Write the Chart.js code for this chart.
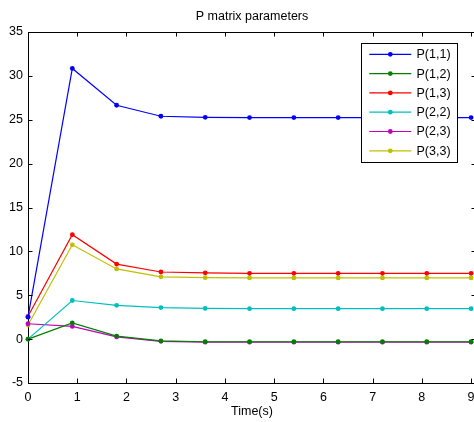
<!DOCTYPE html>
<html><head><meta charset="utf-8">
<script src="https://cdn.jsdelivr.net/npm/chart.js@4/dist/chart.umd.min.js"></script>
<style>
html,body{margin:0;padding:0;background:#fff;overflow:hidden;width:474px;height:422px}
#wrap{position:absolute;left:0;top:0;width:480px;height:422px}
</style></head><body>
<div id="wrap"><canvas id="c" width="480" height="422"></canvas></div>
<script>
const timeValues = [0, 0.9, 1.8, 2.7, 3.6, 4.5, 5.4, 6.3, 7.2, 8.1, 9.0];
const p11 = [2.5, 30.85, 26.65, 25.4, 25.28, 25.25, 25.25, 25.25, 25.25, 25.25, 25.25];
const p12 = [0, 1.85, 0.35, -0.2, -0.3, -0.3, -0.3, -0.3, -0.3, -0.3, -0.3];
const p13 = [2.6, 11.9, 8.55, 7.65, 7.55, 7.5, 7.5, 7.5, 7.5, 7.5, 7.5];
const p22 = [0, 4.4, 3.85, 3.6, 3.5, 3.47, 3.47, 3.47, 3.47, 3.47, 3.47];
const p23 = [1.75, 1.45, 0.25, -0.25, -0.35, -0.35, -0.35, -0.35, -0.35, -0.35, -0.35];
const p33 = [1.6, 10.75, 8.0, 7.1, 7.0, 6.97, 6.97, 6.97, 6.97, 6.97, 6.97];
const seriesLabels = ['P(1,1)', 'P(1,2)', 'P(1,3)', 'P(2,2)', 'P(2,3)', 'P(3,3)'];
const seriesColors = ['#0000ff', '#008000', '#ff0000', '#00bfbf', '#bf00bf', '#bfbf00'];
const xTicks = [0, 1, 2, 3, 4, 5, 6, 7, 8, 9];
const yTicks = [-5, 0, 5, 10, 15, 20, 25, 30, 35];
const titleText = 'P matrix parameters';
const xAxisTitle = 'Time(s)';

const FONT = 'Liberation Sans, Arial, sans-serif';
const allSeries = [p11, p12, p13, p22, p23, p33];

const datasets = allSeries.map((vals, i) => ({
  label: seriesLabels[i],
  data: vals.map((v, j) => ({x: timeValues[j], y: v})),
  borderColor: seriesColors[i],
  backgroundColor: seriesColors[i],
  borderWidth: 1.2,
  pointRadius: 2.4,
  pointStyle: 'circle',
  pointBorderWidth: 0,
  tension: 0,
  clip: false
}));

const matlabPlugin = {
  id: 'matlab',
  afterDraw(chart) {
    const ctx = chart.ctx;
    const a = chart.chartArea;
    const xs = chart.scales.x, ys = chart.scales.y;
    ctx.save();
    ctx.strokeStyle = '#000';
    ctx.lineWidth = 1;
    ctx.beginPath();
    ctx.moveTo(a.left, Math.round(a.top) + 0.5);
    ctx.lineTo(a.right, Math.round(a.top) + 0.5);
    ctx.moveTo(Math.round(a.right) + 0.5, a.top);
    ctx.lineTo(Math.round(a.right) + 0.5, a.bottom);
    ctx.stroke();
    const tl = 4.5;
    ctx.beginPath();
    xTicks.forEach(v => {
      const px = Math.round(xs.getPixelForValue(v)) + 0.5;
      ctx.moveTo(px, a.bottom); ctx.lineTo(px, a.bottom - tl);
      ctx.moveTo(px, a.top); ctx.lineTo(px, a.top + tl);
    });
    yTicks.forEach(v => {
      const py = Math.round(ys.getPixelForValue(v)) + 0.5;
      ctx.moveTo(a.left, py); ctx.lineTo(a.left + tl, py);
      ctx.moveTo(a.right, py); ctx.lineTo(a.right - tl, py);
    });
    ctx.stroke();
    ctx.fillStyle = '#000';
    ctx.font = '12.5px ' + FONT;
    ctx.textAlign = 'center';
    ctx.textBaseline = 'middle';
    ctx.fillText(titleText, (a.left + a.right) / 2, 17);
    ctx.fillText(xAxisTitle, (a.left + a.right) / 2, 412);
    const bx = 361.5, by = 43.5, bw = 96, bh = 119;
    ctx.fillStyle = '#fff';
    ctx.fillRect(bx, by, bw, bh);
    ctx.strokeStyle = '#000';
    ctx.strokeRect(bx, by, bw, bh);
    chart.data.datasets.forEach((ds, i) => {
      const y = 54.3 + i * 19.3;
      ctx.strokeStyle = ds.borderColor;
      ctx.lineWidth = 1.2;
      ctx.beginPath();
      ctx.moveTo(369.3, y); ctx.lineTo(411.3, y);
      ctx.stroke();
      ctx.fillStyle = ds.borderColor;
      ctx.beginPath();
      ctx.arc(390.3, y, 2.4, 0, Math.PI * 2);
      ctx.fill();
      ctx.fillStyle = '#000';
      ctx.textAlign = 'left';
      ctx.textBaseline = 'middle';
      ctx.fillText(ds.label, 416.5, y + 0.5);
    });
    ctx.restore();
  }
};

new Chart(document.getElementById('c'), {
  type: 'line',
  data: {datasets},
  options: {
    responsive: false,
    animation: false,
    devicePixelRatio: 1,
    layout: {padding: {top: 32, right: 4, left: 0, bottom: 0}, autoPadding: false},
    plugins: {legend: {display: false}, title: {display: false}, tooltip: {enabled: false}},
    scales: {
      x: {
        type: 'linear', position: 'bottom', min: 0, max: 9.1,
        afterFit: s => { s.height = 39; },
        afterBuildTicks: s => { s.ticks = xTicks.map(v => ({value: v})); },
        grid: {display: false},
        border: {display: true, color: '#000', width: 1},
        ticks: {font: {family: FONT, size: 12.5}, color: '#000', padding: -1, maxRotation: 0, autoSkip: false}
      },
      y: {
        type: 'linear', position: 'left', min: -5, max: 35,
        afterFit: s => { s.width = 28; },
        afterBuildTicks: s => { s.ticks = yTicks.map(v => ({value: v})); },
        grid: {display: false},
        border: {display: true, color: '#000', width: 1},
        ticks: {font: {family: FONT, size: 12.5}, color: '#000', padding: -3, autoSkip: false}
      }
    }
  },
  plugins: [matlabPlugin]
});
</script>
</body></html>
